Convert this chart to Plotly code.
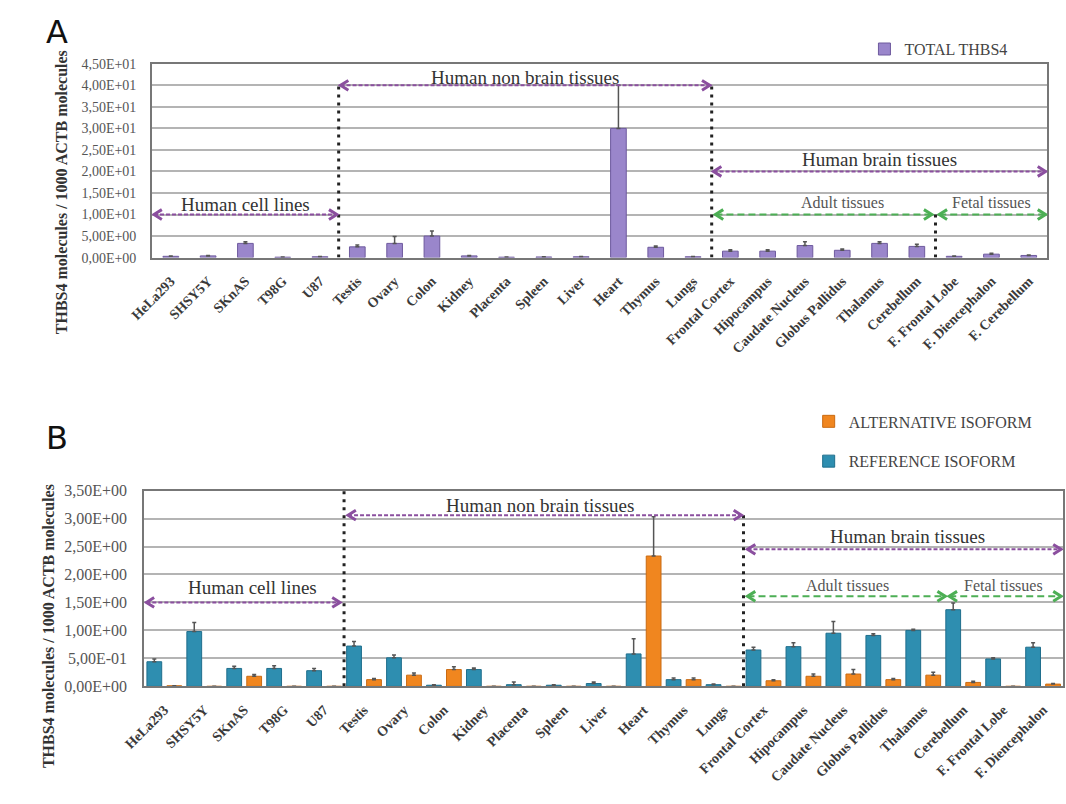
import plotly.graph_objects as go

W, H = 1066, 804

# ---- data -------------------------------------------------------------
tissues_a = ["HeLa293", "SHSY5Y", "SKnAS", "T98G", "U87", "Testis", "Ovary",
             "Colon", "Kidney", "Placenta", "Spleen", "Liver", "Heart",
             "Thymus", "Lungs", "Frontal Cortex", "Hipocampus",
             "Caudate Nucleus", "Globus Pallidus", "Thalamus", "Cerebellum",
             "F. Frontal Lobe", "F. Diencephalon", "F. Cerebellum"]
total_thbs4 = [0.3, 0.4, 3.3, 0.1, 0.2, 2.5, 3.3, 5.0, 0.4, 0.1, 0.15, 0.2,
               30.0, 2.4, 0.2, 1.5, 1.5, 2.8, 1.7, 3.3, 2.6, 0.3, 0.8, 0.5]
total_err = [0.1, 0.1, 0.4, 0.05, 0.05, 0.4, 1.6, 1.2, 0.1, 0.05, 0.05, 0.05,
             10.0, 0.3, 0.05, 0.3, 0.3, 0.9, 0.3, 0.4, 0.5, 0.1, 0.2, 0.1]

tissues_b = ["HeLa293", "SHSY5Y", "SKnAS", "T98G", "U87", "Testis", "Ovary",
             "Colon", "Kidney", "Placenta", "Spleen", "Liver", "Heart",
             "Thymus", "Lungs", "Frontal Cortex", "Hipocampus",
             "Caudate Nucleus", "Globus Pallidus", "Thalamus", "Cerebellum",
             "F. Frontal Lobe", "F. Diencephalon"]
reference_iso = [0.44, 0.98, 0.32, 0.32, 0.28, 0.72, 0.51, 0.02, 0.30, 0.03,
                 0.02, 0.05, 0.58, 0.12, 0.03, 0.65, 0.71, 0.95, 0.91, 1.00,
                 1.37, 0.49, 0.70]
reference_err = [0.05, 0.16, 0.04, 0.05, 0.04, 0.08, 0.05, 0.01, 0.03, 0.05,
                 0.01, 0.03, 0.27, 0.03, 0.01, 0.05, 0.07, 0.21, 0.03, 0.02,
                 0.12, 0.02, 0.08]
alternative_iso = [0.01, 0.0, 0.18, 0.0, 0.0, 0.12, 0.20, 0.30, 0.0, 0.0, 0.0,
                   0.0, 2.33, 0.12, 0.0, 0.10, 0.18, 0.22, 0.12, 0.20, 0.07,
                   0.0, 0.04]
alternative_err = [0.0, 0.0, 0.03, 0.0, 0.0, 0.02, 0.04, 0.05, 0.0, 0.0, 0.0,
                   0.0, 0.70, 0.03, 0.0, 0.02, 0.04, 0.08, 0.02, 0.05, 0.02,
                   0.0, 0.01]

ticks_a = [0, 5, 10, 15, 20, 25, 30, 35, 40, 45]
ticklabels_a = ["0,00E+00", "5,00E+00", "1,00E+01", "1,50E+01", "2,00E+01",
                "2,50E+01", "3,00E+01", "3,50E+01", "4,00E+01", "4,50E+01"]
ticks_b = [0, 0.5, 1.0, 1.5, 2.0, 2.5, 3.0, 3.5]
ticklabels_b = ["0,00E+00", "5,00E-01", "1,00E+00", "1,50E+00", "2,00E+00",
                "2,50E+00", "3,00E+00", "3,50E+00"]

# ---- geometry (pixels) ------------------------------------------------
A_L, A_R, A_T, A_B = 132, 1047, 57, 255
B_L, B_R, B_T, B_B = 124, 1063, 493, 693
A_YMAX, B_YMAX = 45, 3.5

SERIF = "Liberation Serif"
PURPLE = "#8B4F9F"
GREEN = "#4DAF55"
GRID = "#B4B4B4"
FRAME = "#777777"

n_a, n_b = len(tissues_a), len(tissues_b)
# data units per pixel on each axis
ux_a = n_a / (A_R - A_L)
uy_a = A_YMAX / (A_B - A_T)
ux_b = n_b / (B_R - B_L)
uy_b = B_YMAX / (B_B - B_T)

fig = go.Figure()

# Panel A: total THBS4
fig.add_trace(go.Bar(
    x=list(range(n_a)), y=total_thbs4, width=0.42,
    marker=dict(color="#9A86CB", line=dict(color="#6E5A9E", width=1)),
    error_y=dict(type="data", symmetric=False, array=total_err,
                 arrayminus=[0] * n_a, color="#555555", thickness=1.5, width=2),
    name="TOTAL THBS4", xaxis="x", yaxis="y", legend="legend",
))

# Panel B: isoforms
fig.add_trace(go.Bar(
    x=list(range(n_b)), y=alternative_iso, width=0.37, offset=0.065,
    marker=dict(color="#F0861F", line=dict(color="#C96A12", width=1)),
    error_y=dict(type="data", symmetric=False, array=alternative_err,
                 arrayminus=[0] * n_b, color="#555555", thickness=1.5, width=2),
    name="ALTERNATIVE ISOFORM", xaxis="x2", yaxis="y2", legend="legend2",
    legendgroup="alt", legendrank=1,
))
fig.add_trace(go.Bar(
    x=list(range(n_b)), y=reference_iso, width=0.37, offset=-0.435,
    marker=dict(color="#2E8EB0", line=dict(color="#1F6E8C", width=1)),
    error_y=dict(type="data", symmetric=False, array=reference_err,
                 arrayminus=[0] * n_b, color="#555555", thickness=1.5, width=2),
    name="REFERENCE ISOFORM", xaxis="x2", yaxis="y2", legend="legend2",
    legendgroup="ref", legendrank=2,
))

shapes = []
annotations = []


def hline_arrow(xa, ya, x0, x1, y, ux, uy, color, dash, width):
    shapes.append(dict(type="line", xref=xa, yref=ya, x0=x0, x1=x1, y0=y, y1=y,
                       line=dict(color=color, dash=dash, width=width)))
    dx, dy = 8 * ux, 5 * uy
    for tip, sgn in ((x0, 1), (x1, -1)):
        path = (f"M {tip + sgn * dx},{y + dy} L {tip},{y} "
                f"L {tip + sgn * dx},{y - dy}")
        shapes.append(dict(type="path", xref=xa, yref=ya, path=path,
                           line=dict(color=color, width=width + 1)))


def vdots(xa, ya, x, y0, y1):
    shapes.append(dict(type="line", xref=xa, yref=ya, x0=x, x1=x, y0=y0, y1=y1,
                       line=dict(color="#222222", dash="3px,5px", width=3)))


def label(xa, ya, x, y, text, size, color, yshift):
    annotations.append(dict(xref=xa, yref=ya, x=x, y=y, text=text,
                            showarrow=False, yanchor="middle", yshift=yshift,
                            font=dict(family=SERIF, size=size, color=color)))


# Panel A group annotations
vdots("x", "y", 4.5, 0, 40)
vdots("x", "y", 14.5, 0, 40)
vdots("x", "y", 20.5, 0, 10)
hline_arrow("x", "y", -0.45, 4.45, 10, ux_a, uy_a, PURPLE, "4px,2px", 2)
hline_arrow("x", "y", 4.55, 14.45, 40, ux_a, uy_a, PURPLE, "4px,2px", 2)
hline_arrow("x", "y", 14.55, 23.45, 20, ux_a, uy_a, PURPLE, "4px,2px", 2)
hline_arrow("x", "y", 14.6, 20.4, 10, ux_a, uy_a, GREEN, "7px,4px", 2)
hline_arrow("x", "y", 20.6, 23.45, 10, ux_a, uy_a, GREEN, "7px,4px", 2)
label("x", "y", 2.0, 10, "Human cell lines", 19, "#333333", 10)
label("x", "y", 9.5, 40, "Human non brain tissues", 19, "#333333", 8)
label("x", "y", 19.0, 20, "Human brain tissues", 19, "#333333", 12)
label("x", "y", 18.0, 10, "Adult tissues", 16, "#555555", 12)
label("x", "y", 22.0, 10, "Fetal tissues", 16, "#555555", 12)

# Panel B group annotations
vdots("x2", "y2", 4.5, 0, 3.5)
vdots("x2", "y2", 14.5, 0, 3.06)
hline_arrow("x2", "y2", -0.45, 4.4, 1.5, ux_b, uy_b, PURPLE, "4px,2px", 2)
hline_arrow("x2", "y2", 4.6, 14.45, 3.06, ux_b, uy_b, PURPLE, "4px,2px", 2)
hline_arrow("x2", "y2", 14.6, 22.45, 2.45, ux_b, uy_b, PURPLE, "4px,2px", 2)
hline_arrow("x2", "y2", 14.6, 19.55, 1.61, ux_b, uy_b, GREEN, "7px,4px", 2)
hline_arrow("x2", "y2", 19.65, 22.45, 1.61, ux_b, uy_b, GREEN, "7px,4px", 2)
label("x2", "y2", 2.2, 1.5, "Human cell lines", 19, "#333333", 15)
label("x2", "y2", 9.4, 3.06, "Human non brain tissues", 19, "#333333", 10)
label("x2", "y2", 18.6, 2.45, "Human brain tissues", 19, "#333333", 13)
label("x2", "y2", 17.1, 1.61, "Adult tissues", 16, "#555555", 11)
label("x2", "y2", 21.0, 1.61, "Fetal tissues", 16, "#555555", 11)

# panel letters and y-axis titles
for letter, ypx in (("A", 25), ("B", 439)):
    annotations.append(dict(xref="paper", yref="paper", x=21 / W, y=1 - ypx / H,
                            text=letter, showarrow=False, xanchor="left",
                            yanchor="middle",
                            font=dict(family="DejaVu Sans", size=32,
                                      color="#111111")))
for xpx, ypx in ((39, 188), (26, 631)):
    annotations.append(dict(xref="paper", yref="paper", x=xpx / W, y=1 - ypx / H,
                            text="THBS4 molecules / 1000 ACTB molecules",
                            textangle=-90, showarrow=False,
                            xanchor="center", yanchor="middle",
                            font=dict(family=SERIF, size=16, color="#333333",
                                      weight="bold")))

tickfont_x = dict(family=SERIF, size=14, color="#3A3A3A", weight="bold")
common_x = dict(showgrid=False, showline=True, mirror=True, linecolor=FRAME,
                linewidth=2, ticks="", tickangle=-45, tickfont=tickfont_x,
                zeroline=False, ticklabelstandoff=8)
common_y = dict(showgrid=True, gridcolor=GRID, gridwidth=1.5, showline=True,
                mirror=True, linecolor=FRAME, linewidth=2, ticks="",
                zeroline=False)

fig.update_layout(
    width=W, height=H, autosize=False,
    margin=dict(l=0, r=0, t=0, b=0),
    paper_bgcolor="white", plot_bgcolor="white",
    xaxis=dict(domain=[A_L / W, A_R / W], range=[-0.5, n_a - 0.5],
               tickvals=list(range(n_a)), ticktext=tissues_a, anchor="y",
               **common_x),
    yaxis=dict(domain=[1 - A_B / H, 1 - A_T / H], range=[0, A_YMAX],
               tickvals=ticks_a, ticktext=ticklabels_a, anchor="x",
               tickfont=dict(family=SERIF, size=14, color="#555555"),
               ticklabelstandoff=11, **common_y),
    xaxis2=dict(domain=[B_L / W, B_R / W], range=[-0.5, n_b - 0.5],
                tickvals=list(range(n_b)), ticktext=tissues_b, anchor="y2",
                **common_x),
    yaxis2=dict(domain=[1 - B_B / H, 1 - B_T / H], range=[0, B_YMAX],
                tickvals=ticks_b, ticktext=ticklabels_b, anchor="x2",
                tickfont=dict(family=SERIF, size=16, color="#555555"),
                ticklabelstandoff=12, **common_y),
    legend=dict(x=860 / W, y=1 - 42 / H, xanchor="left", yanchor="middle",
                bgcolor="rgba(0,0,0,0)", itemwidth=30,
                font=dict(family=SERIF, size=16, color="#444444")),
    legend2=dict(x=803 / W, y=1 - 405 / H, xanchor="left", yanchor="top",
                 bgcolor="rgba(0,0,0,0)", itemwidth=30, traceorder="grouped",
                 tracegroupgap=16,
                 font=dict(family=SERIF, size=16, color="#444444")),
    shapes=shapes, annotations=annotations,
    showlegend=True,
)

fig.write_html("out.html")
